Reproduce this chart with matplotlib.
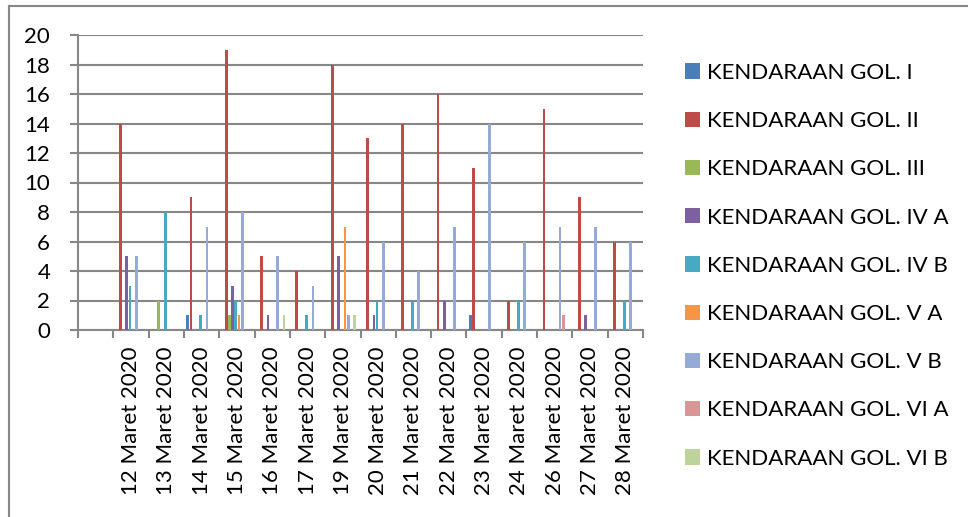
import numpy as np
import matplotlib.pyplot as plt
from matplotlib.patches import Patch
from matplotlib.lines import Line2D

plt.rcParams['font.family'] = ['Lato', 'DejaVu Sans']

# first category is blank, as in the source sheet
tanggal = ['', '12 Maret 2020', '13 Maret 2020', '14 Maret 2020', '15 Maret 2020',
           '16 Maret 2020', '17 Maret 2020', '19 Maret 2020', '20 Maret 2020',
           '21 Maret 2020', '22 Maret 2020', '23 Maret 2020', '24 Maret 2020',
           '26 Maret 2020', '27 Maret 2020', '28 Maret 2020']

gol_1   = [0, 0, 0, 1, 0, 0, 0, 0, 0, 0, 0, 1, 0, 0, 0, 0]
gol_2   = [0, 14, 0, 9, 19, 5, 4, 18, 13, 14, 16, 11, 2, 15, 9, 6]
gol_3   = [0, 0, 2, 0, 1, 0, 0, 0, 0, 0, 0, 0, 0, 0, 0, 0]
gol_4a  = [0, 5, 0, 0, 3, 1, 0, 5, 1, 0, 2, 0, 0, 0, 1, 0]
gol_4b  = [0, 3, 8, 1, 2, 0, 1, 0, 2, 2, 0, 0, 2, 0, 0, 2]
gol_5a  = [0, 0, 0, 0, 1, 0, 0, 7, 0, 0, 0, 0, 0, 0, 0, 0]
gol_5b  = [0, 5, 0, 7, 8, 5, 3, 1, 6, 4, 7, 14, 6, 7, 7, 6]
gol_6a  = [0, 0, 0, 0, 0, 0, 0, 0, 0, 0, 0, 0, 0, 1, 0, 0]
gol_6b  = [0, 0, 0, 0, 0, 1, 0, 1, 0, 0, 0, 0, 0, 0, 0, 0]

series = [gol_1, gol_2, gol_3, gol_4a, gol_4b, gol_5a, gol_5b, gol_6a, gol_6b]
labels = ['KENDARAAN GOL. I', 'KENDARAAN GOL. II', 'KENDARAAN GOL. III',
          'KENDARAAN GOL. IV A', 'KENDARAAN GOL. IV B', 'KENDARAAN GOL. V A',
          'KENDARAAN GOL. V B', 'KENDARAAN GOL. VI A', 'KENDARAAN GOL. VI B']
colors = ['#4A7EBB', '#BE4B48', '#98B954', '#7D60A0', '#46AAC5',
          '#F69546', '#95ABD6', '#D99694', '#BDD39B']

W, H = 968, 517
fig = plt.figure(figsize=(W / 100, H / 100), dpi=100)
ax = fig.add_axes([78 / W, (H - 330) / H, (643 - 78) / W, (330 - 35) / H])

grey = '#878787'
x = np.arange(len(tanggal)) + 0.5
step = 0.091
for j, (vals, lab, col) in enumerate(zip(series, labels, colors)):
    ax.bar(x + (j - 4) * step - 0.03, vals, width=step * 0.85, color=col,
           label=lab, zorder=3)

ax.set_xlim(0, len(tanggal))
ax.set_ylim(0, 20)
ax.set_yticks(range(0, 21, 2))
ax.yaxis.grid(True, color=grey, linewidth=1.5, zorder=0)
ax.set_axisbelow(True)
for s in ['top', 'right']:
    ax.spines[s].set_visible(False)
for s in ['left', 'bottom']:
    ax.spines[s].set_color(grey)
    ax.spines[s].set_linewidth(1.5)

ax.set_xticks(range(len(tanggal) + 1))
ax.set_xticklabels([])
ax.set_xticks(x, minor=True)
ax.set_xticklabels(tanggal, minor=True, rotation=90, fontsize=16)
ax.tick_params(axis='x', which='major', length=6, width=1.5, color=grey)
ax.tick_params(axis='x', which='minor', length=0, pad=12)
ax.tick_params(axis='y', length=6, width=1.5, color=grey, labelsize=16, pad=14)

handles = [Patch(facecolor=c, edgecolor='none') for c in colors]
leg = fig.legend(handles, labels, loc='upper left',
                 bbox_to_anchor=(676 / W, 1 - 54 / H), frameon=False,
                 fontsize=16, handlelength=0.68, handleheight=0.68,
                 handletextpad=0.3, labelspacing=1.27, borderaxespad=0)

# outer chart border (left and top edges fall inside the image)
fig.add_artist(Line2D([9 / W, 9 / W], [0, 1 - 6 / H], color=grey, lw=1.5,
                      transform=fig.transFigure))
fig.add_artist(Line2D([9 / W, 1], [1 - 6 / H, 1 - 6 / H], color=grey, lw=1.5,
                      transform=fig.transFigure))

fig.savefig('out.png', dpi=100)
